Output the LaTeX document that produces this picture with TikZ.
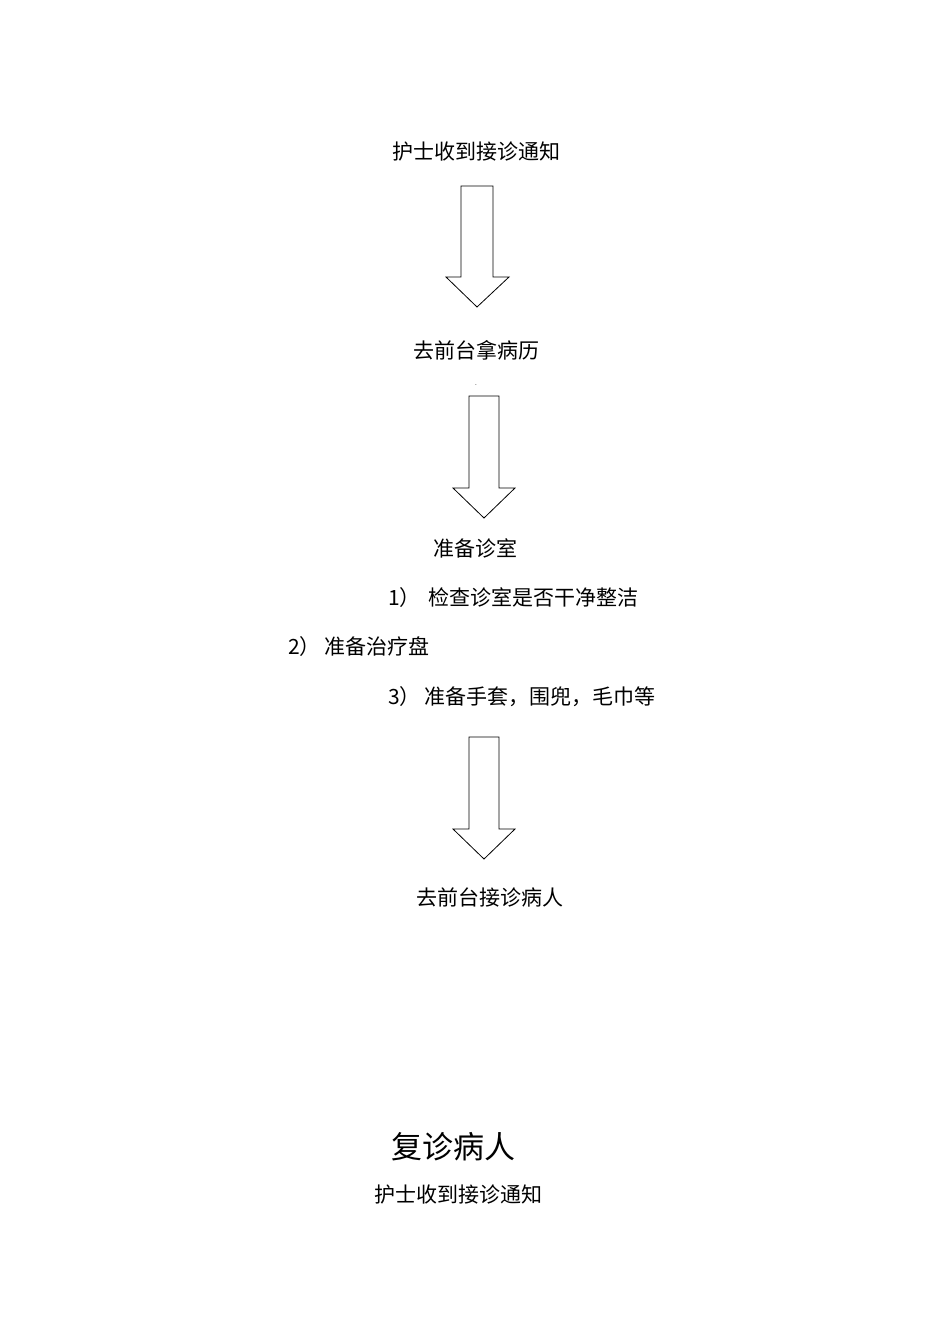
\documentclass[tikz,border=0pt]{standalone}
\usepackage{fontspec}
\setmainfont{Carlito}
\newfontfamily\cjk{Noto Sans CJK SC}
\begin{document}
\begin{tikzpicture}[x=1pt,y=-1pt,
  txt/.style={font=\cjk\fontsize{21}{24}\selectfont,inner sep=0pt},
  blk/.style={draw=black,line width=0.8pt,fill=white}]
\useasboundingbox (0,0) rectangle (950,1344);
\fill[white] (0,0) rectangle (950,1344);
\newcommand\blockarrow[6]{% xl xr top neck headl headr tip
}
\node[txt] (t1) at (476,152) {护士收到接诊通知};
\draw[blk] (461,186) -- (493,186) -- (493,277) -- (509,277) -- (477,307) -- (446,277) -- (461,277) -- cycle;
\node[txt] (t2) at (476,350) {去前台拿病历};
\node[font=\tiny,inner sep=0pt] (dash) at (476,386) {-};
\draw[blk] (469,396) -- (499,396) -- (499,488) -- (515,488) -- (484,518) -- (453,488) -- (469,488) -- cycle;
\node[txt] (t3) at (475,548) {准备诊室};
\node[txt,anchor=west] (i1) at (388,598) {1）\hspace{8pt}检查诊室是否干净整洁};
\node[txt,anchor=west] (i2) at (288,647) {2）\hspace{4pt}准备治疗盘};
\node[txt,anchor=west] (i3) at (388,697) {3）\hspace{4pt}准备手套，围兜，毛巾等};
\draw[blk] (469,737) -- (499,737) -- (499,829) -- (515,829) -- (484,859) -- (453,829) -- (469,829) -- cycle;
\node[txt] (t4) at (490,897) {去前台接诊病人};
\node[font=\cjk\fontsize{31}{34}\selectfont,inner sep=0pt] (h) at (453,1147) {复诊病人};
\node[txt] (t5) at (458,1195) {护士收到接诊通知};
\end{tikzpicture}
\end{document}
